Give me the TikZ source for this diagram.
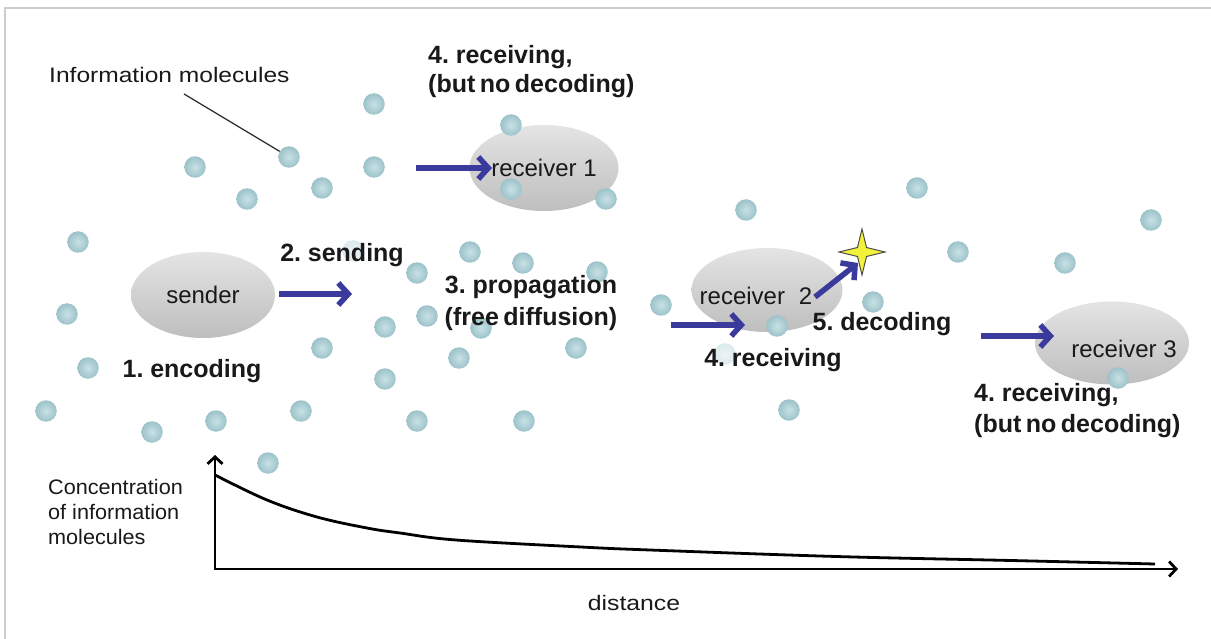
\documentclass[tikz,border=0pt]{standalone}
\usepackage{fontspec}
\setmainfont{Liberation Sans}
\usetikzlibrary{arrows.meta,shapes.geometric}
\definecolor{arrowblue}{RGB}{58,58,156}
\definecolor{dotin}{RGB}{200,226,230}
\definecolor{dotout}{RGB}{156,194,201}
\definecolor{framegray}{RGB}{205,205,205}
\definecolor{staryellow}{RGB}{242,242,58}
\definecolor{blobtop}{RGB}{228,228,228}
\definecolor{blobbot}{RGB}{190,190,190}
\definecolor{inktext}{RGB}{25,25,25}
\newcommand{\tightsp}{\spaceskip=0.18em plus 0.05em\relax}
\begin{document}
\begin{tikzpicture}[x=1pt,y=-1pt,
  dot/.style={circle,inner sep=0pt,minimum size=21.5pt,shading=radial,inner color=dotin,outer color=dotout},
  faintdot/.style={dot,opacity=0.35},
  blob/.style={ellipse,inner sep=0pt,minimum height=86pt,top color=blobtop,bottom color=blobbot,font=\fontsize{24}{28}\selectfont,text=inktext},
  boldlabel/.style={inner sep=0pt,font=\fontsize{25}{29}\selectfont\bfseries\tightsp,text=inktext},
  plainlabel/.style={inner sep=0pt,font=\fontsize{24}{28}\selectfont,text=inktext},
  smalllabel/.style={inner sep=0pt,font=\fontsize{21}{25}\selectfont,text=inktext},
  sig/.style={draw=arrowblue,line width=5.5pt,-{Straight Barb[length=10pt,width=22pt]}},
  axisline/.style={draw=black,line width=2.8pt,line join=miter},
]
\useasboundingbox (0,0) rectangle (1211,639);
\fill[white] (0,0) rectangle (1211,639);
\draw[framegray,line width=1.5pt] (5,639) -- (5,8) -- (1211,8);

% cells
\node[blob,minimum width=144pt] (sender) at (203,295) {sender};
\node[blob,minimum width=148pt] (r1) at (544,168) {receiver 1};
\node[blob,minimum width=151pt,minimum height=84pt] (r2) at (767,290) {};
\node[blob,minimum width=154pt,minimum height=83pt] (r3) at (1112,343) {};
\node[plainlabel] (r2t) at (756,296) {receiver\hspace{0.3em} 2};
\node[plainlabel] (r3t) at (1124,349) {receiver 3};

% molecules
\foreach \p [count=\i] in {(374,104),(511,125),(195,167),(247,199),(322,188),(374,167),(511,189),(606,199),(78,242),(470,252),(417,273),(523,263),(597,272),(67,314),(385,327),(427,316),(481,328),(322,348),(459,358),(576,348),(661,305),(88,368),(385,379),(46,411),(152,432),(216,421),(301,411),(417,421),(524,421),(268,463),(746,210),(917,188),(958,252),(1065,263),(1151,220),(873,302),(777,326),(789,410),(1118,378)}
  \node[dot] (m\i) at \p {};
\node[dot] (mptr) at (289,157) {};
\node[faintdot] (mf1) at (353,251) {};
\node[faintdot] (mf2) at (725,354) {};

% pointer of the molecule label
\node[smalllabel,anchor=west] (info) at (49,75) {\scalebox{1.17}[1]{Information molecules}};
\coordinate (ptr) at (184,94);
\draw[line width=1.2pt,black!85] (ptr) -- (mptr);

% signal arrows
\coordinate (s0) at (279,294); \coordinate (s1) at (352,294);
\coordinate (a0) at (416,168); \coordinate (a1) at (492,168);
\coordinate (b0) at (671,325); \coordinate (b1) at (745,325);
\coordinate (d0) at (815,297); \coordinate (d1) at (858,263);
\coordinate (c0) at (981,336); \coordinate (c1) at (1054,336);
\draw[sig] (s0) -- (s1);
\draw[sig] (a0) -- (a1);
\draw[sig] (b0) -- (b1);
\coordinate (star) at (862,252);
\filldraw[fill=staryellow,draw=black!70,line width=1pt,shift={(star)}]
  (0,-23) -- (4.5,-4.5) -- (23,0) -- (4.5,4.5) -- (0,23) -- (-4.5,4.5) -- (-23,0) -- (-4.5,-4.5) -- cycle;
\draw[sig] (d0) -- (d1);
\draw[sig] (c0) -- (c1);

% step labels
\node[boldlabel,anchor=west,align=left] (t4a) at (428,72) {4. receiving,\\(but no decoding)};
\node[boldlabel] (t2) at (342,255) {2. sending};
\node[boldlabel,align=center,font=\fontsize{25}{32}\selectfont\bfseries\tightsp] (t3) at (531,303) {3. propagation\\(free diffusion)};
\node[boldlabel] (t1) at (192,371) {1. encoding};
\node[boldlabel] (t4b) at (773,360) {4. receiving};
\node[boldlabel] (t5) at (882,324) {5. decoding};
\node[boldlabel,anchor=west,align=left,font=\fontsize{25}{31}\selectfont\bfseries\tightsp] (t4c) at (974,411) {4. receiving,\\(but no decoding)};

% concentration plot
\coordinate (origin) at (215,569);
\coordinate (ytop) at (215,455);
\coordinate (xend) at (1178,569);
\draw[axisline,{Straight Barb[length=7pt,width=15pt]}-{Straight Barb[length=7pt,width=15pt]}] (ytop) -- (origin) -- (xend);
\draw[line width=2.8pt] plot[smooth,tension=0.6] coordinates {(215,475) (267,500) (317,517) (367,528) (400,533) (456,540) (581,547) (650,550) (836,556.5) (1011,560.5) (1155,564)};
\node[smalllabel,anchor=west,align=left] (conc) at (48,512) {\scalebox{1.03}[1]{Concentration}\\\scalebox{1.03}[1]{of information}\\\scalebox{1.03}[1]{molecules}};
\node[smalllabel] (dist) at (634,603) {\scalebox{1.18}[1]{distance}};
\end{tikzpicture}
\end{document}
